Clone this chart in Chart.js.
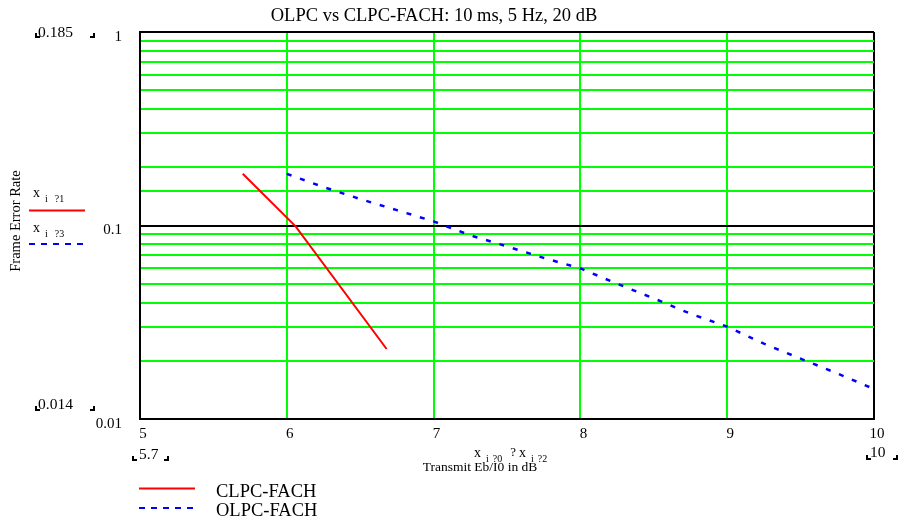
<!DOCTYPE html>
<html>
<head>
<meta charset="utf-8">
<title>OLPC vs CLPC-FACH</title>
<script src="https://cdn.jsdelivr.net/npm/chart.js@4"></script>
<style>
    html, body { margin: 0; padding: 0; background: #fff; }
    #wrap { width: 899px; height: 525px; position: relative; }
</style>
</head>
<body>
<div id="wrap"><canvas id="ferChart"></canvas></div>
<script>
// 読み取った値（グラフから目視）
const clpcEbI0 = [5.7, 6.06, 6.68];
const clpcFer = [0.185, 0.099, 0.023];

const olpcEbI0 = [6.0, 6.25, 6.5, 6.75, 7.0, 7.25, 7.5, 7.75, 8.0, 8.25, 8.5, 8.75, 9.0, 9.25, 9.5, 9.75, 10.0];
const olpcFer = [0.185, 0.158, 0.137, 0.12, 0.105, 0.089, 0.078, 0.068, 0.060, 0.050, 0.042, 0.035, 0.030, 0.0245, 0.0205, 0.0172, 0.0143];

const xTickValues = [5, 6, 7, 8, 9, 10];
const yTickLabels = [0.01, 0.1, 1];

const SERIF = '"Liberation Serif", "DejaVu Serif", serif';
const GREEN = '#00ff00';

function toPoints(xs, ys) {
    return xs.map((x, i) => ({ x: x, y: ys[i] }));
}

function isDecade(v) {
    return yTickLabels.some(t => Math.abs(v - t) < t * 1e-6);
}

// 小さい角かっこ（Mathcad風のマーカー）
function corner(ctx, x, y, side) {
    ctx.beginPath();
    if (side === 'left') {
        ctx.moveTo(x, y - 4); ctx.lineTo(x, y); ctx.lineTo(x + 4, y);
    } else {
        ctx.moveTo(x - 4, y); ctx.lineTo(x, y); ctx.lineTo(x, y - 4);
    }
    ctx.stroke();
}

function subLabel(ctx, x, y, parts) {
    // parts: [text, size, dy, gap]
    let cx = x;
    parts.forEach(p => {
        ctx.font = p[1] + 'px ' + SERIF;
        ctx.fillText(p[0], cx, y + p[2]);
        cx += ctx.measureText(p[0]).width + (p[3] || 3);
    });
}

const annotations = {
    id: 'annotations',
    afterDraw(chart) {
        const ctx = chart.ctx;
        ctx.save();
        ctx.fillStyle = '#000';
        ctx.strokeStyle = '#000';
        ctx.textBaseline = 'middle';

        // タイトル
        ctx.font = '18.5px ' + SERIF;
        ctx.textAlign = 'center';
        ctx.fillText('OLPC vs CLPC-FACH: 10 ms, 5 Hz, 20 dB', 434, 16);

        // 軸タイトル
        ctx.font = '13.5px ' + SERIF;
        ctx.fillText('Transmit Eb/I0 in dB', 480, 467);
        ctx.save();
        ctx.translate(16, 221);
        ctx.rotate(-Math.PI / 2);
        ctx.font = '14.5px ' + SERIF;
        ctx.fillText('Frame Error Rate', 0, 0);
        ctx.restore();

        // マーカー値
        ctx.textAlign = 'left';
        ctx.font = '15.5px ' + SERIF;
        ctx.lineWidth = 2;
        ctx.fillText('0.185', 38, 33);
        corner(ctx, 36, 37, 'left'); corner(ctx, 94, 37, 'right');
        ctx.fillText('0.014', 38, 405);
        corner(ctx, 36, 410, 'left'); corner(ctx, 94, 410, 'right');
        ctx.fillText('5.7', 139, 455);
        corner(ctx, 133, 460, 'left'); corner(ctx, 168, 460, 'right');
        ctx.fillText('10', 870, 453);
        corner(ctx, 867, 459, 'left'); corner(ctx, 897, 459, 'right');

        // 変数ラベル
        subLabel(ctx, 474, 453, [['x', 14, 0, 5], ['i', 10, 6, 4], ['?0', 10, 6, 8], ['?', 13, 0, 3], ['x', 14, 0, 5], ['i', 10, 6, 4], ['?2', 10, 6]]);
        subLabel(ctx, 33, 193, [['x', 14, 0, 5], ['i', 10, 6, 7], ['?1', 10, 6]]);
        subLabel(ctx, 33, 228, [['x', 14, 0, 5], ['i', 10, 6, 7], ['?3', 10, 6]]);

        // 左側の凡例線
        ctx.lineWidth = 2;
        ctx.strokeStyle = '#ff0000';
        ctx.beginPath(); ctx.moveTo(29, 210.5); ctx.lineTo(85, 210.5); ctx.stroke();
        ctx.strokeStyle = '#0000ff';
        ctx.setLineDash([6, 6]);
        ctx.beginPath(); ctx.moveTo(29, 244); ctx.lineTo(85, 244); ctx.stroke();
        ctx.setLineDash([]);

        // 下の凡例
        ctx.strokeStyle = '#ff0000';
        ctx.beginPath(); ctx.moveTo(139, 488.5); ctx.lineTo(195, 488.5); ctx.stroke();
        ctx.strokeStyle = '#0000ff';
        ctx.setLineDash([6, 6]);
        ctx.beginPath(); ctx.moveTo(139, 508); ctx.lineTo(195, 508); ctx.stroke();
        ctx.setLineDash([]);
        ctx.font = '18.5px ' + SERIF;
        ctx.fillStyle = '#000';
        ctx.fillText('CLPC-FACH', 216, 492);
        ctx.fillText('OLPC-FACH', 216, 511);

        ctx.restore();
    }
};

const ferChart = new Chart(document.getElementById('ferChart'), {
    type: 'line',
    data: {
        datasets: [
            {
                label: 'CLPC-FACH',
                data: toPoints(clpcEbI0, clpcFer),
                borderColor: '#ff0000',
                borderWidth: 2,
                pointRadius: 0,
                tension: 0
            },
            {
                label: 'OLPC-FACH',
                data: toPoints(olpcEbI0, olpcFer),
                borderColor: '#0000ff',
                borderWidth: 2.5,
                borderDash: [5, 9],
                pointRadius: 0,
                tension: 0
            }
        ]
    },
    options: {
        responsive: true,
        maintainAspectRatio: false,
        animation: false,
        layout: { padding: { top: 32, right: 25, left: 0, bottom: 0 } },
        plugins: {
            legend: { display: false },
            title: { display: false },
            tooltip: { enabled: false }
        },
        scales: {
            x: {
                type: 'linear',
                min: 5,
                max: 10,
                afterFit: s => { s.height = 106; },
                afterBuildTicks: s => { s.ticks = xTickValues.map(v => ({ value: v })); },
                grid: {
                    drawTicks: false,
                    lineWidth: 2,
                    color: c => (c.tick && (c.tick.value === 5 || c.tick.value === 10)) ? '#000' : GREEN
                },
                border: { color: '#000', width: 2 },
                ticks: {
                    color: '#000',
                    font: { family: SERIF, size: 15 },
                    padding: 6,
                    labelOffset: 3,
                    maxRotation: 0,
                    autoSkip: false
                }
            },
            y: {
                type: 'logarithmic',
                min: 0.01,
                max: 1,
                afterFit: s => { s.width = 140; },
                grid: {
                    drawTicks: false,
                    lineWidth: 2,
                    color: c => (c.tick && isDecade(c.tick.value)) ? '#000' : GREEN
                },
                border: { color: '#000', width: 2 },
                ticks: {
                    color: '#000',
                    font: { family: SERIF, size: 15 },
                    padding: 18,
                    labelOffset: 5,
                    autoSkip: false,
                    callback: v => isDecade(v) ? String(yTickLabels.find(t => Math.abs(v - t) < t * 1e-6)) : ''
                }
            }
        }
    },
    plugins: [annotations]
});
</script>
</body>
</html>
